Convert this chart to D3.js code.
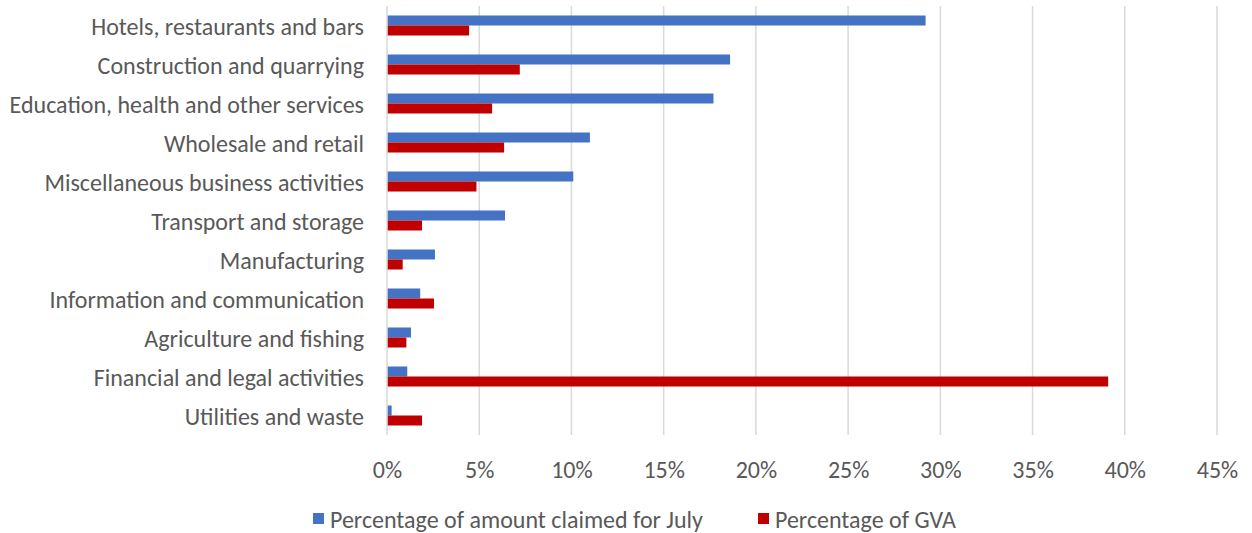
<!DOCTYPE html>
<html>
<head>
<meta charset="utf-8">
<script src="https://cdn.jsdelivr.net/npm/d3@7"></script>
<style>
  html, body { margin: 0; padding: 0; background: #fff; }
  svg { display: block; }
  text { font-family: Carlito, Calibri, "Liberation Sans", Arial, sans-serif; fill: #595959; }
</style>
</head>
<body>
<svg id="chart" width="1252" height="533"></svg>
<script>
const categories = [
  "Hotels, restaurants and bars",
  "Construction and quarrying",
  "Education, health and other services",
  "Wholesale and retail",
  "Miscellaneous business activities",
  "Transport and storage",
  "Manufacturing",
  "Information and communication",
  "Agriculture and fishing",
  "Financial and legal activities",
  "Utilities and waste"
];
const claimedJuly = [29.2, 18.6, 17.7, 11.0, 10.1, 6.4, 2.6, 1.8, 1.3, 1.1, 0.25];
const gvaShare    = [4.45, 7.2, 5.7, 6.35, 4.85, 1.9, 0.85, 2.55, 1.05, 39.1, 1.9];
const seriesNames = ["Percentage of amount claimed for July", "Percentage of GVA"];
const seriesColors = ["#4472C4", "#C00000"];
const xTicks = [0, 5, 10, 15, 20, 25, 30, 35, 40, 45];

const svg = d3.select("#chart");
const plot = { left: 387, right: 1217, top: 6, bottom: 435 };
const fontSize = "24px";

const x = d3.scaleLinear().domain([0, 45]).range([plot.left, plot.right]);
const y = d3.scaleBand().domain(categories).range([plot.top, plot.bottom])
  .paddingInner(0.487).paddingOuter(0.2435);
const ySub = d3.scaleBand().domain(seriesNames).range([0, y.bandwidth()]);

// gridlines
svg.append("g").selectAll("line").data(xTicks).join("line")
  .attr("x1", d => x(d)).attr("x2", d => x(d))
  .attr("y1", plot.top).attr("y2", plot.bottom)
  .attr("stroke", "#d9d9d9").attr("stroke-width", 1.5);

// bars
const seriesData = [claimedJuly, gvaShare];
seriesData.forEach((vals, si) => {
  svg.append("g").selectAll("rect").data(vals).join("rect")
    .attr("x", x(0) + 0.75)
    .attr("y", (d, i) => y(categories[i]) + ySub(seriesNames[si]))
    .attr("width", d => Math.max(0, x(d) - x(0) - 0.75))
    .attr("height", ySub.bandwidth())
    .attr("fill", seriesColors[si]);
});

// category labels
const yAxis = d3.axisLeft(y).tickSize(0).tickPadding(0);
const gy = svg.append("g").attr("transform", `translate(${plot.left - 23},0)`).call(yAxis);
gy.select(".domain").remove();
gy.selectAll("text").style("font-size", fontSize).attr("fill", "#595959").attr("dy", "0.4em");

// x axis labels
const xAxis = d3.axisBottom(x).tickValues(xTicks).tickFormat(d => d + "%").tickSize(0).tickPadding(0);
const gx = svg.append("g").attr("transform", `translate(0,${plot.bottom})`).call(xAxis);
gx.select(".domain").remove();
gx.selectAll("text").style("font-size", fontSize).attr("fill", "#595959").attr("dy", "0").attr("y", 43);

// legend
const legendX = [313, 758];
const legend = svg.append("g");
seriesNames.forEach((name, i) => {
  legend.append("rect").attr("x", legendX[i]).attr("y", 513).attr("width", 11).attr("height", 11)
    .attr("fill", seriesColors[i]);
  legend.append("text").attr("x", legendX[i] + 17).attr("y", 528)
    .style("font-size", fontSize).text(name);
});
</script>
</body>
</html>
